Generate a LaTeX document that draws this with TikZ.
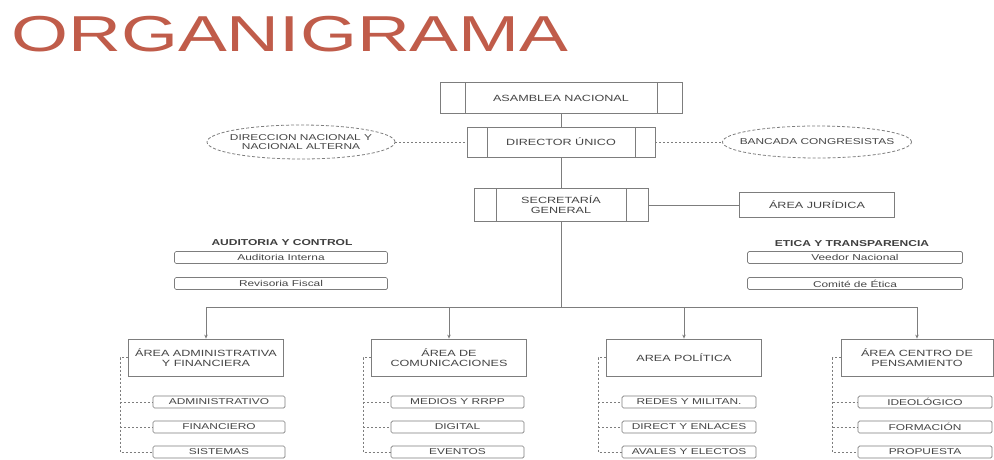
\documentclass[tikz,border=0pt]{standalone}
\usepackage{fontspec}
\setmainfont{Liberation Sans}
\newfontfamily\lblfont[FakeStretch=1.4]{Liberation Sans}
\newfontfamily\titlefont[FakeStretch=1.45]{Liberation Sans}
\usetikzlibrary{shapes.geometric,arrows.meta}
\definecolor{titlered}{RGB}{192,92,74}
\definecolor{txt}{RGB}{70,70,70}
\definecolor{edge}{RGB}{125,125,125}
\begin{document}
\begin{tikzpicture}[x=1pt,y=-1pt,
  every node/.style={font=\lblfont\fontsize{9}{10}\selectfont, text=txt, align=center, inner sep=0pt},
  procbox/.style n args={3}{draw=edge, line width=0.9pt, minimum width=#1, minimum height=#2,
    path picture={
      \draw[edge, line width=0.9pt] ([xshift=#3]path picture bounding box.north west) -- ([xshift=#3]path picture bounding box.south west);
      \draw[edge, line width=0.9pt] ([xshift=-#3]path picture bounding box.north east) -- ([xshift=-#3]path picture bounding box.south east);}},
  ellbox/.style={ellipse, draw=edge, line width=0.8pt, dash pattern=on 3pt off 2pt, inner xsep=-45pt, inner ysep=-6pt, minimum width=188pt, minimum height=34pt, font=\lblfont\fontsize{8.5}{9.5}\selectfont},
  areabox/.style={draw=edge, line width=0.8pt, minimum width=155pt, minimum height=37pt},
  subbox/.style={draw=edge, line width=0.7pt, rounded corners=1.5pt, minimum width=133pt, minimum height=12pt, font=\lblfont\fontsize{8.5}{9}\selectfont},
  thinbox/.style={draw=edge, line width=0.7pt, rounded corners=1.5pt, minimum width=213pt, minimum height=12pt, font=\lblfont\fontsize{8.5}{9}\selectfont},
  grouplbl/.style={font=\lblfont\bfseries\fontsize{8.6}{9}\selectfont, text=txt!90!black},
  conn/.style={draw=edge, line width=0.8pt},
  dconn/.style={draw=edge, line width=0.7pt, dash pattern=on 2pt off 2pt},
  arr/.style={conn, -{Stealth[length=4pt,width=3.5pt]}}
]
\useasboundingbox (0,0) rectangle (994,460);
\fill[white] (0,0) rectangle (994,460);

% title
\node[anchor=base west, font=\titlefont\fontsize{50.5}{53}\selectfont, text=titlered] (title) at (11,52) {ORGANIGRAMA};

% top hierarchy
\node[procbox={242pt}{31pt}{25pt}] (asam) at (561,98) {ASAMBLEA NACIONAL};
\node[procbox={188pt}{30pt}{20pt}] (dir) at (561,142) {DIRECTOR ÚNICO};
\node[procbox={174pt}{33pt}{22pt}] (sec) at (561,205) {SECRETARÍA\\GENERAL};
\node[ellbox] (dirnac) at (301,142) {DIRECCION NACIONAL Y\\NACIONAL ALTERNA};
\node[ellbox, minimum width=189pt, minimum height=32pt] (banc) at (817,142) {BANCADA CONGRESISTAS};
\node[draw=edge, line width=0.8pt, minimum width=155pt, minimum height=25pt] (jur) at (817,205) {ÁREA JURÍDICA};

\draw[conn] (asam) -- (dir);
\draw[conn] (dir) -- (sec);
\draw[dconn] (dirnac) -- (dir);
\draw[dconn] (dir) -- (banc);
\draw[conn] (sec) -- (jur);

% control groups
\node[grouplbl] (audlbl) at (282,243) {AUDITORIA Y CONTROL};
\node[thinbox] (aud) at (281,257.5) {Auditoria Interna};
\node[thinbox] (rev) at (281,283.5) {Revisoria Fiscal};
\node[grouplbl] (etlbl) at (852,244) {ETICA Y TRANSPARENCIA};
\node[thinbox, minimum width=215pt] (vee) at (855,257.5) {Veedor Nacional};
\node[thinbox, minimum width=215pt] (com) at (855,283.5) {Comité de Ética};

% areas
\node[areabox] (a1) at (206,357.5) {ÁREA ADMINISTRATIVA\\Y FINANCIERA};
\node[areabox] (a2) at (449,357.5) {ÁREA DE\\COMUNICACIONES};
\node[areabox] (a3) at (684,357.5) {AREA POLÍTICA};
\node[areabox, minimum width=152pt] (a4) at (917,357.5) {ÁREA CENTRO DE\\PENSAMIENTO};

\coordinate (bus) at (561,307);
\coordinate (b1) at (206,307);
\coordinate (b2) at (449,307);
\coordinate (b3) at (684,307);
\coordinate (b4) at (917,307);
\draw[conn] (sec) -- (bus);
\draw[conn] (b1) -- (b4);
\draw[arr] (b1) -- (a1);
\draw[arr] (b2) -- (a2);
\draw[arr] (b3) -- (a3);
\draw[arr] (b4) -- (a4);

% sub units
\node[subbox, minimum width=132pt] (s11) at (219,402) {ADMINISTRATIVO};
\node[subbox, minimum width=132pt] (s12) at (219,427) {FINANCIERO};
\node[subbox, minimum width=132pt] (s13) at (219,452) {SISTEMAS};
\node[subbox] (s21) at (457.5,402) {MEDIOS Y RRPP};
\node[subbox] (s22) at (457.5,427) {DIGITAL};
\node[subbox] (s23) at (457.5,452) {EVENTOS};
\node[subbox, minimum width=134pt] (s31) at (689,402) {REDES Y MILITAN.};
\node[subbox, minimum width=134pt] (s32) at (689,427) {DIRECT Y ENLACES};
\node[subbox, minimum width=134pt] (s33) at (689,452) {AVALES Y ELECTOS};
\node[subbox, minimum width=134pt] (s41) at (925,402) {IDEOLÓGICO};
\node[subbox, minimum width=134pt] (s42) at (925,427) {FORMACIÓN};
\node[subbox, minimum width=134pt] (s43) at (925,452) {PROPUESTA};

\foreach \a/\s in {a1/s1, a2/s2, a3/s3, a4/s4}{
  \draw[dconn] (\a.west) -- ++(-8,0) coordinate (v) |- (\s3.west);
  \draw[dconn] (v |- \s1.west) -- (\s1.west);
  \draw[dconn] (v |- \s2.west) -- (\s2.west);
}
\end{tikzpicture}
\end{document}
